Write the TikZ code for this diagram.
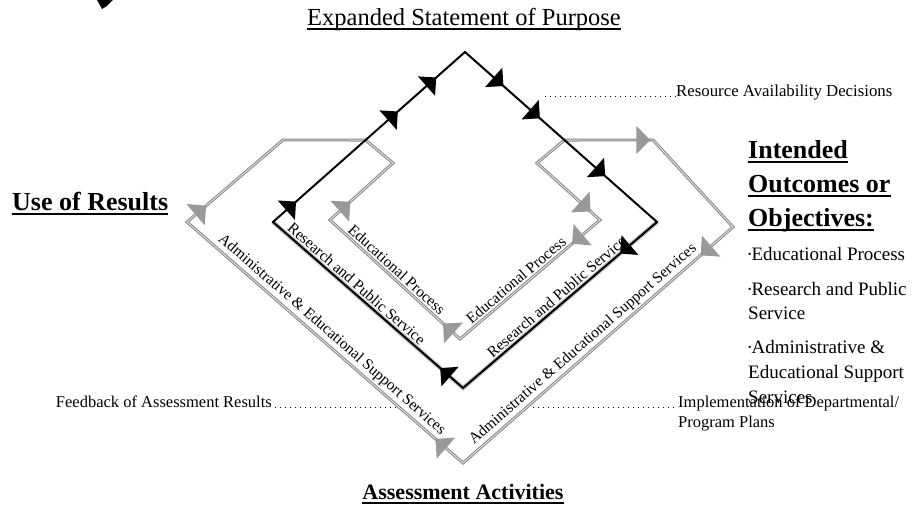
\documentclass[tikz,border=0pt]{standalone}
\usepackage{fontspec}
\setmainfont{Liberation Serif}
\usepackage{graphicx}
\usetikzlibrary{calc}
\definecolor{lg}{gray}{0.52}
\definecolor{ag}{gray}{0.6}
\newcommand{\arrhd}[5]{%
  \coordinate (hT) at ($(#1)!#3!(#2)$);
  \coordinate (hC) at ($(hT)!#4!(#1)$);
  \fill[#5] (hT) -- ($(hC)!#4!90:(hT)$) -- ($(hC)!#4!-90:(hT)$) -- cycle;}
\newcommand{\bul}{\raisebox{0.14em}{\scalebox{0.5}{•}}}
\begin{document}
\begin{tikzpicture}[x=1pt,y=-1pt,
  graypath/.style={draw=lg, line width=1pt, double=gray!22, double distance=0.9pt, line join=miter},
  blackpath/.style={draw=black, line width=2pt, line join=miter},
  blackhalo/.style={draw=gray!45, line width=4.5pt},
  lbl/.style={inner sep=0pt, font=\fontsize{15.5}{18}\selectfont},
  sidetxt/.style={inner sep=0pt, anchor=base west, font=\fontsize{19}{22}\selectfont},
  smalltxt/.style={inner sep=0pt, font=\fontsize{16.5}{19}\selectfont},
  headtxt/.style={inner sep=0pt, font=\fontsize{26}{30}\selectfont\bfseries},
  ulin/.style={line width=1.3pt},
  leader/.style={line width=1pt, dash pattern=on 1pt off 4pt},
  bk/.style={fill=black},
  gy/.style={fill=ag}]
\useasboundingbox (0,0) rectangle (912,516);
\fill[white] (0,0) rectangle (912,516);

% top-left fragment
\fill[black] (97,0) -- (113,0) -- (107,6) -- (102,9) -- cycle;

% coordinates
\coordinate (A) at (465,52);
\coordinate (R) at (657,222);
\coordinate (B) at (463,388);
\coordinate (L) at (273,222);
\coordinate (JL) at ($(A)!0.518!(L)$);
\coordinate (JR) at ($(A)!0.518!(R)$);
\coordinate (OL) at (187,222);
\coordinate (OTL) at (283,140);
\coordinate (OTR) at (653,140);
\coordinate (OR) at (733,227);
\coordinate (OB) at (463,463);
\coordinate (IL) at (330,220);
\coordinate (IKL) at (393,163);
\coordinate (IB) at (460,339);
\coordinate (IR) at (600,220);
\coordinate (IKR) at (537,163);

% gray loop
\draw[graypath] (OL) -- (OTL) -- (JL) -- (IKL) -- (IL) -- (IB) -- (IR) -- (IKR) -- (JR) -- (OTR) -- (OR) -- (OB) -- cycle;

% black loop
\draw[blackhalo] (R) -- (B) -- (L);
\draw[blackpath] (A) -- (R) -- (B) -- (L) -- cycle;

% black arrowheads
\arrhd{L}{A}{0.12}{13pt}{bk}
\arrhd{L}{A}{0.65}{13pt}{bk}
\arrhd{L}{A}{0.85}{13pt}{bk}
\arrhd{A}{R}{0.2}{13pt}{bk}
\arrhd{A}{R}{0.39}{13pt}{bk}
\arrhd{A}{R}{0.73}{13pt}{bk}
\arrhd{R}{B}{0.19}{13pt}{bk}
\arrhd{B}{L}{0.12}{13pt}{bk}

% gray arrowheads
\arrhd{OL}{OTL}{0.2}{14pt}{gy}
\arrhd{OB}{OL}{0.1}{14pt}{gy}
\arrhd{OR}{OB}{0.12}{14pt}{gy}
\arrhd{JR}{OTR}{0.97}{14pt}{gy}
\arrhd{IKR}{IR}{0.85}{14pt}{gy}
\arrhd{IR}{IB}{0.2}{14pt}{gy}
\arrhd{IB}{IL}{0.13}{14pt}{gy}
\arrhd{IL}{IKL}{0.32}{14pt}{gy}

% sloped labels
\path (OL) -- (OB) node[lbl, sloped, above=3pt, pos=0.5] (t1) {Administrative \& Educational Support Services};
\path (L) -- (B) node[lbl, sloped, above=3pt, pos=0.41] (t2) {Research and Public Service};
\path (IL) -- (IB) node[lbl, sloped, above=3pt, pos=0.47] (t3) {Educational Process};
\path (IB) -- (IR) node[lbl, sloped, above=3pt, pos=0.44] (t4) {Educational Process};
\path (B) -- (R) node[lbl, sloped, above=3pt, pos=0.51] (t5) {Research and Public Service};
\path (OB) -- (OR) node[lbl, sloped, above=3pt, pos=0.47] (t6) {Administrative \& Educational Support Services};

% title
\node[inner sep=0pt, font=\fontsize{24.5}{28}\selectfont, anchor=base] (purpose) at (464,26) {Expanded Statement of Purpose};
\draw[ulin] ([yshift=-3pt]purpose.base west) -- ([yshift=-3pt]purpose.base east);

% use of results
\node[headtxt, anchor=base west] (use) at (12,210) {Use of Results};
\draw[ulin] ([yshift=-4pt]use.base west) -- ([yshift=-4pt]use.base east);

% intended outcomes
\node[headtxt, anchor=base west] (io1) at (748,158) {Intended};
\node[headtxt, anchor=base west] (io2) at (748,192) {Outcomes or};
\node[headtxt, anchor=base west] (io3) at (748,226) {Objectives:};
\foreach \n in {io1,io2,io3}{\draw[ulin] ([yshift=-4pt]\n.base west) -- ([yshift=-4pt]\n.base east);}
\node[sidetxt] (b1) at (748,260) {\bul Educational Process};
\node[sidetxt] (b2) at (748,295) {\bul Research and Public};
\node[sidetxt] (b2b) at (748,319) {Service};
\node[sidetxt] (b3) at (748,353) {\bul Administrative \&};
\node[sidetxt] (b3b) at (748,378) {Educational Support};
\node[sidetxt] (b3c) at (748,403) {Services};

% resource availability
\node[smalltxt, font=\fontsize{16.8}{19}\selectfont, anchor=base west] (res) at (676,97) {Resource Availability Decisions};
\coordinate (resd) at (545,97);
\draw[leader] (resd) -- (res.base west);

% implementation
\node[smalltxt, anchor=base west] (imp) at (678,407) {Implementation of Departmental/};
\node[smalltxt, anchor=base west] (imp2) at (678,427) {Program Plans};
\coordinate (impd) at (533,407);
\draw[leader] (impd) -- (imp.base west);

% feedback
\node[smalltxt, anchor=base east] (fb) at (272,407) {Feedback of Assessment Results};
\coordinate (fbd) at (400,407);
\draw[leader] ([xshift=3pt]fb.base east) -- (fbd);

% assessment activities
\node[headtxt, font=\fontsize{22}{26}\selectfont\bfseries, anchor=base] (assess) at (463,499) {Assessment Activities};
\draw[ulin] ([yshift=-4pt]assess.base west) -- ([yshift=-4pt]assess.base east);
\end{tikzpicture}
\end{document}
